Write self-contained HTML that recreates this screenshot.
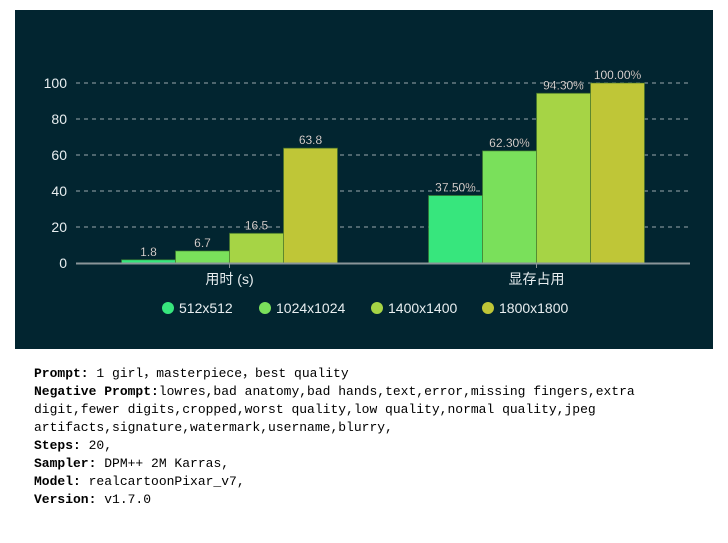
<!DOCTYPE html>
<html><head><meta charset="utf-8">
<style>
html,body{margin:0;padding:0;background:#fff;width:728px;height:543px;overflow:hidden}
#panel{position:absolute;left:15px;top:10px;width:698px;height:339px;background:#022530}
svg{position:absolute;left:0;top:0}
#info{position:absolute;left:34px;top:365px;width:680px;font-family:"Liberation Mono","Noto Sans CJK SC",monospace;font-size:13px;line-height:18px;color:#000;white-space:pre-wrap}
#info b{font-weight:bold}
</style></head><body>
<div id="panel"></div>
<svg id="chart" width="728" height="350"></svg>
<div id="info"><div><b>Prompt:</b> 1 girl，masterpiece，best quality</div><div><b>Negative Prompt:</b>lowres,bad anatomy,bad hands,text,error,missing fingers,extra digit,fewer digits,cropped,worst quality,low quality,normal quality,jpeg artifacts,signature,watermark,username,blurry,</div><div><b>Steps:</b> 20,</div><div><b>Sampler:</b> DPM++ 2M Karras,</div><div><b>Model:</b> realcartoonPixar_v7,</div><div><b>Version:</b> v1.7.0</div></div>
<script>
const categories = ["用时 (s)", "显存占用"];
const seriesNames = ["512x512", "1024x1024", "1400x1400", "1800x1800"];
const seriesValues = [[1.8, 37.5], [6.7, 62.3], [16.5, 94.3], [63.8, 100]];
const valueLabels = [["1.8", "37.50%"], ["6.7", "62.30%"], ["16.5", "94.30%"], ["63.8", "100.00%"]];
const yTicks = [0, 20, 40, 60, 80, 100];
const colors = ["#37e67d", "#7ae05b", "#a6d445", "#bfc637"];

const NS = "http://www.w3.org/2000/svg";
const svg = document.getElementById("chart");
const x0 = 76, x1 = 690, y0 = 263, y1 = 83, yMax = 100;
const yScale = v => y0 - (v / yMax) * (y0 - y1);
const catW = (x1 - x0) / categories.length;
const catCenter = i => x0 + catW * (i + 0.5);
const barW = 54;
function mk(tag, attrs, parent) {
  const e = document.createElementNS(NS, tag);
  for (const k in attrs) e.setAttribute(k, attrs[k]);
  (parent || svg).appendChild(e);
  return e;
}
const font = '"Liberation Sans","Noto Sans CJK SC",sans-serif';
yTicks.forEach(t => {
  const y = yScale(t);
  if (t > 0) {
    const g = mk("line", {x1: x0, x2: x1, y1: y, y2: y, stroke: "#9aa7ab", "stroke-width": 1, "stroke-dasharray": "4,4"});
    
    
  }
  const l = mk("text", {x: 67, y: y + 5, "text-anchor": "end", fill: "#e8eef0", "font-size": 14, "font-family": font});
  l.textContent = t;
  
  
});
seriesValues.forEach((vals, s) => {
  vals.forEach((v, c) => {
    const bx = catCenter(c) - 2 * barW + s * barW;
    const by = yScale(v);
    const r = mk("rect", {x: bx, y: by, width: barW, height: y0 - by, fill: colors[s], stroke: "rgba(60,110,40,0.6)", "stroke-width": 1});
    
    
    const t = mk("text", {x: bx + barW / 2, y: by - 4, "text-anchor": "middle", fill: "#ffffff", "font-size": 12, "font-family": font, stroke: "#333", "stroke-width": 0.3});
    t.textContent = valueLabels[s][c];
    
    
  });
});
const ax = mk("line", {x1: x0, x2: x1, y1: y0 + 0.5, y2: y0 + 0.5, stroke: "#8a9599", "stroke-width": 2});


categories.forEach((c, i) => {
  const tk = mk("line", {x1: catCenter(i), x2: catCenter(i), y1: y0, y2: y0 + 5, stroke: "#8a9599", "stroke-width": 1});
  
  
  const t = mk("text", {x: catCenter(i), y: y0 + 21, "text-anchor": "middle", fill: "#e8eef0", "font-size": 14, "font-family": font});
  t.textContent = c;
  
  
});
const legendX = [168, 265, 377, 488];
seriesNames.forEach((n, s) => {
  const g = mk("g", {});
  
  
  mk("circle", {cx: legendX[s], cy: 308, r: 6, fill: colors[s]}, g);
  const t = mk("text", {x: legendX[s] + 11, y: 313, fill: "#e8eef0", "font-size": 14, "font-family": font}, g);
  t.textContent = n;
});
</script>
</body></html>
